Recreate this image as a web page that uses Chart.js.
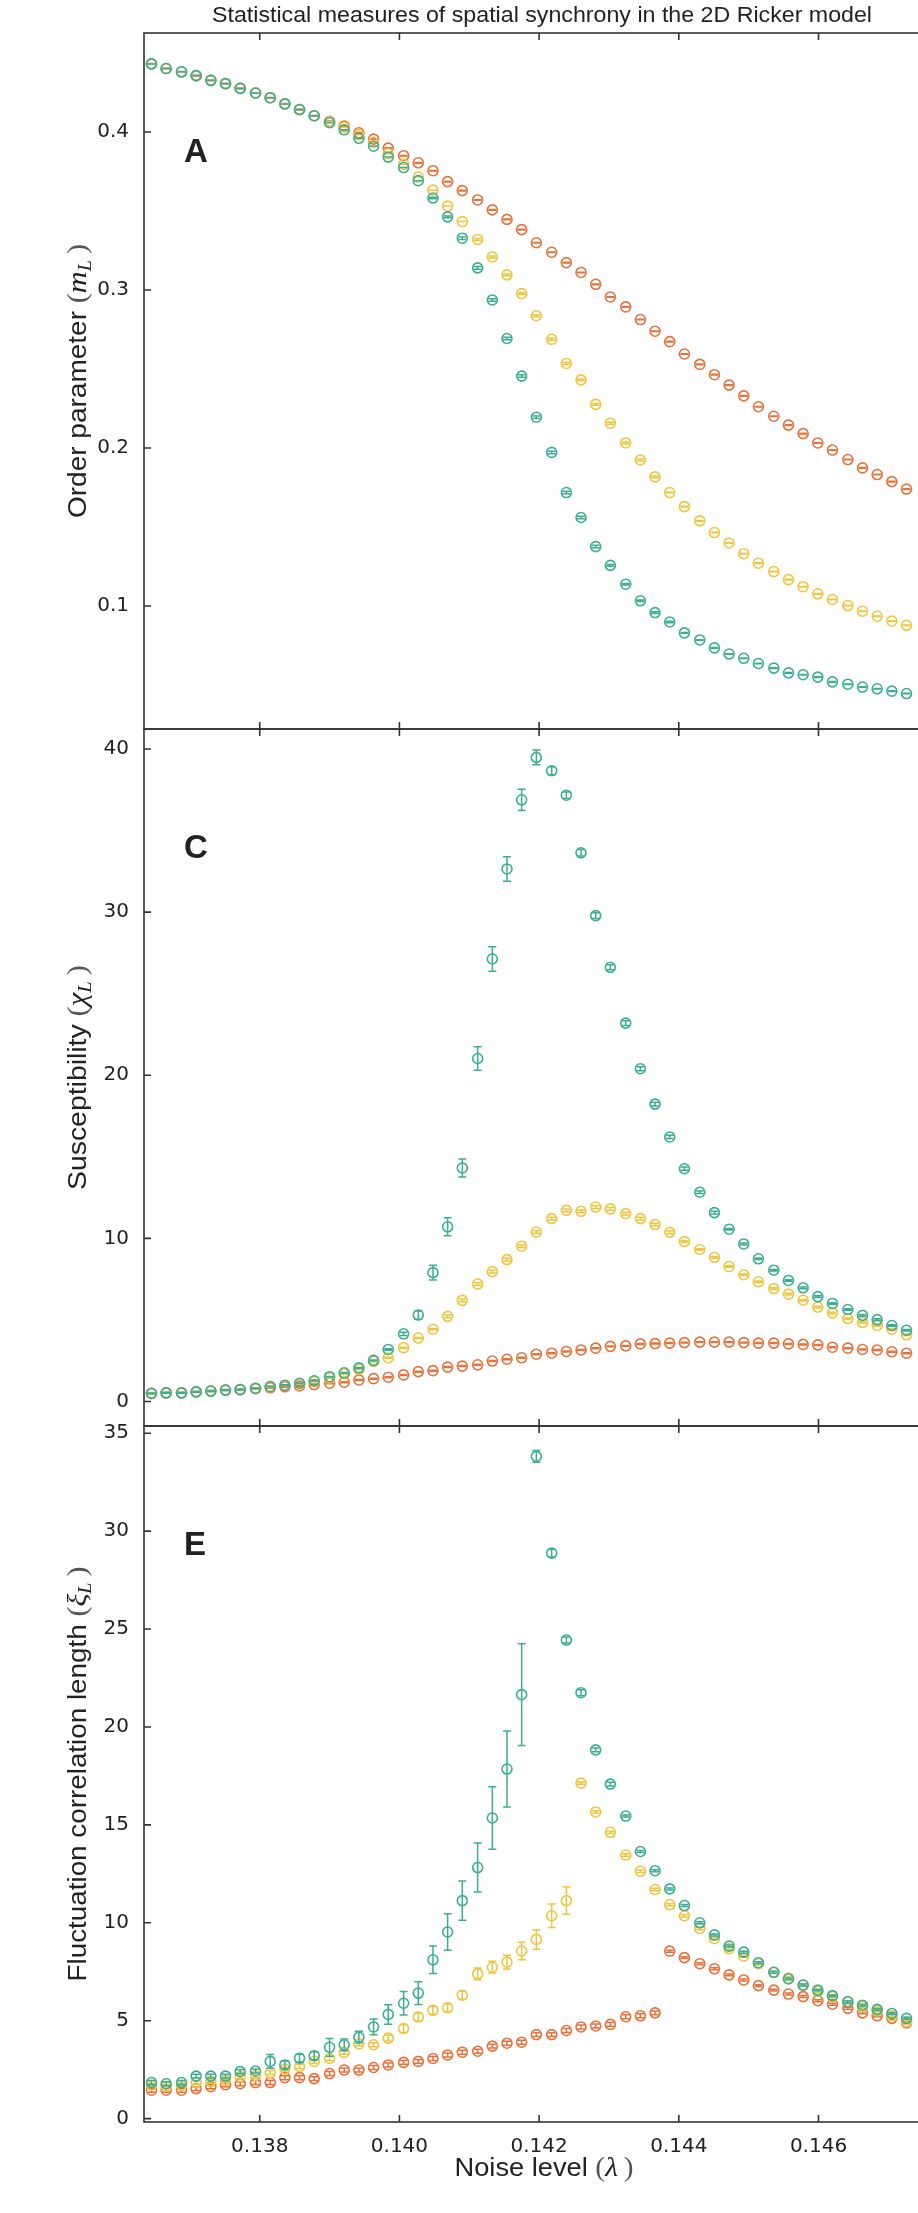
<!DOCTYPE html>
<html>
<head>
<meta charset="utf-8">
<title>Statistical measures of spatial synchrony in the 2D Ricker model</title>
<script src="https://cdn.jsdelivr.net/npm/chart.js@4.4.1/dist/chart.umd.min.js"></script>
<style>
  html, body { margin: 0; padding: 0; background: #fff; }
  #wrap { position: relative; width: 918px; height: 2213px; overflow: hidden; background: #fff; }
  #wrap canvas { position: absolute; left: 0; }
</style>
</head>
<body>
<div id="wrap">
  <canvas id="panelA" width="940" height="760" style="top:0px"></canvas>
  <canvas id="panelC" width="940" height="760" style="top:700px"></canvas>
  <canvas id="panelE" width="940" height="817" style="top:1396px"></canvas>
</div>
<script>
// noise level (lambda) of every sample
const lambda = [
  0.13645, 0.13666, 0.13688, 0.13709, 0.13730, 0.13751, 0.13772, 0.13794, 0.13815, 0.13836,
  0.13857, 0.13878, 0.13900, 0.13921, 0.13942, 0.13963, 0.13984, 0.14006, 0.14027, 0.14048,
  0.14069, 0.14090, 0.14112, 0.14133, 0.14154, 0.14175, 0.14196, 0.14218, 0.14239, 0.14260,
  0.14281, 0.14302, 0.14324, 0.14345, 0.14366, 0.14387, 0.14408, 0.14430, 0.14451, 0.14472,
  0.14493, 0.14514, 0.14536, 0.14557, 0.14578, 0.14599, 0.14620, 0.14642, 0.14663, 0.14684,
  0.14705, 0.14726
];
const tickX = [0.138, 0.140, 0.142, 0.144, 0.146];
const ticksA = [0.1, 0.2, 0.3, 0.4];
const ticksC = [0, 10, 20, 30, 40];
const ticksE = [0, 5, 10, 15, 20, 25, 30, 35];

// A: order parameter
const orderTeal = [
  0.4431, 0.4402, 0.4381, 0.4357, 0.4327, 0.4306, 0.4276, 0.4247, 0.4217, 0.4178,
  0.4142, 0.4103, 0.4059, 0.4014, 0.3960, 0.3910, 0.3841, 0.3775, 0.3692, 0.3582,
  0.3463, 0.3328, 0.3140, 0.2937, 0.2693, 0.2455, 0.2195, 0.1972, 0.1718, 0.1560,
  0.1376, 0.1257, 0.1138, 0.1033, 0.0958, 0.0899, 0.0830, 0.0785, 0.0735, 0.0696,
  0.0669, 0.0636, 0.0607, 0.0577, 0.0565, 0.0550, 0.0520, 0.0505, 0.0487, 0.0476,
  0.0461, 0.0446
];
const orderYellow = [
  0.4431, 0.4402, 0.4381, 0.4357, 0.4327, 0.4306, 0.4276, 0.4247, 0.4217, 0.4178,
  0.4142, 0.4103, 0.4065, 0.4030, 0.3982, 0.3935, 0.3862, 0.3795, 0.3715, 0.3632,
  0.3531, 0.3433, 0.3320, 0.3209, 0.3096, 0.2977, 0.2837, 0.2688, 0.2535, 0.2431,
  0.2276, 0.2157, 0.2032, 0.1924, 0.1817, 0.1718, 0.1629, 0.1539, 0.1465, 0.1399,
  0.1331, 0.1271, 0.1218, 0.1167, 0.1122, 0.1077, 0.1041, 0.1003, 0.0967, 0.0935,
  0.0905, 0.0878
];
const orderOrange = [
  0.4431, 0.4402, 0.4381, 0.4357, 0.4327, 0.4306, 0.4276, 0.4247, 0.4217, 0.4178,
  0.4142, 0.4103, 0.4068, 0.4038, 0.3995, 0.3955, 0.3898, 0.3850, 0.3805, 0.3755,
  0.3686, 0.3629, 0.3570, 0.3507, 0.3447, 0.3382, 0.3299, 0.3239, 0.3173, 0.3111,
  0.3036, 0.2956, 0.2893, 0.2813, 0.2739, 0.2673, 0.2595, 0.2529, 0.2464, 0.2398,
  0.2330, 0.2261, 0.2201, 0.2145, 0.2091, 0.2032, 0.1987, 0.1927, 0.1874, 0.1832,
  0.1787, 0.1740
];
const orderTealErr = [
  0, 0, 0, 0, 0, 0, 0, 0, 0, 0,
  0, 0, 0, 0, 0, 0, 0, 0, 0, 0.0005,
  0.0005, 0.0008, 0.0008, 0.0008, 0.0008, 0.0008, 0.0008, 0.0008, 0.0008, 0.0008,
  0.0008, 0.0005, 0.0005, 0.0005, 0.0005, 0.0005, 0.0002, 0.0002, 0.0002, 0.0002,
  0.0002, 0.0002, 0.0002, 0.0002, 0.0002, 0.0002, 0.0002, 0.0002, 0.0002, 0.0002,
  0.0002, 0.0002
];
const orderYellowErr = [
  0, 0, 0, 0, 0, 0, 0, 0, 0, 0,
  0, 0, 0, 0, 0, 0, 0, 0, 0, 0,
  0, 0, 0.0006, 0.0006, 0.0006, 0.0006, 0.0006, 0.0006, 0.0006, 0.0006,
  0.0006, 0.0006, 0.0006, 0.0006, 0.0006, 0.0002, 0.0002, 0.0002, 0.0002, 0.0002,
  0.0002, 0.0002, 0.0002, 0.0002, 0.0002, 0.0002, 0.0002, 0.0002, 0.0002, 0.0002,
  0.0002, 0.0002
];
const orderOrangeErr = [
  0.0002, 0.0002, 0.0002, 0.0002, 0.0002, 0.0002, 0.0002, 0.0002, 0.0002, 0.0002,
  0.0002, 0.0002, 0.0002, 0.0002, 0.0002, 0.0002, 0.0002, 0.0002, 0.0002, 0.0002,
  0.0002, 0.0002, 0.0002, 0.0002, 0.0002, 0.0002, 0.0002, 0.0002, 0.0002, 0.0002,
  0.0002, 0.0002, 0.0002, 0.0002, 0.0002, 0.0002, 0.0002, 0.0002, 0.0002, 0.0002,
  0.0002, 0.0002, 0.0002, 0.0002, 0.0002, 0.0002, 0.0002, 0.0002, 0.0002, 0.0002,
  0.0002, 0.0002
];

// C: susceptibility
const suscTeal = [
  0.50, 0.53, 0.53, 0.59, 0.64, 0.70, 0.73, 0.81, 0.92, 1.00,
  1.12, 1.27, 1.52, 1.76, 2.06, 2.52, 3.19, 4.15, 5.30, 7.90,
  10.71, 14.32, 21.03, 27.13, 32.65, 36.89, 39.49, 38.67, 37.17, 33.64,
  29.79, 26.62, 23.20, 20.40, 18.23, 16.22, 14.27, 12.83, 11.58, 10.56,
  9.66, 8.75, 8.05, 7.42, 6.97, 6.43, 6.01, 5.64, 5.28, 5.02,
  4.66, 4.37
];
const suscYellow = [
  0.50, 0.53, 0.53, 0.59, 0.64, 0.70, 0.73, 0.81, 0.90, 0.98,
  1.08, 1.22, 1.45, 1.69, 1.97, 2.45, 2.68, 3.30, 3.89, 4.43,
  5.22, 6.20, 7.20, 7.96, 8.70, 9.52, 10.39, 11.21, 11.72, 11.66,
  11.92, 11.81, 11.52, 11.21, 10.85, 10.37, 9.80, 9.32, 8.84, 8.28,
  7.77, 7.34, 6.92, 6.58, 6.21, 5.79, 5.42, 5.08, 4.85, 4.66,
  4.43, 4.09
];
const suscOrange = [
  0.50, 0.53, 0.53, 0.59, 0.64, 0.70, 0.73, 0.79, 0.84, 0.90,
  0.95, 1.04, 1.12, 1.18, 1.32, 1.40, 1.49, 1.63, 1.83, 1.89,
  2.11, 2.17, 2.25, 2.48, 2.59, 2.68, 2.90, 2.96, 3.07, 3.16,
  3.27, 3.38, 3.41, 3.53, 3.55, 3.58, 3.61, 3.64, 3.64, 3.64,
  3.61, 3.58, 3.58, 3.53, 3.50, 3.47, 3.33, 3.27, 3.19, 3.16,
  3.05, 2.96
];
const suscTealErr = [
  0.02, 0.02, 0.02, 0.02, 0.02, 0.02, 0.02, 0.02, 0.02, 0.02,
  0.02, 0.02, 0.02, 0.02, 0.02, 0.02, 0.05, 0.1, 0.25, 0.45,
  0.55, 0.55, 0.72, 0.75, 0.75, 0.65, 0.45, 0.25, 0.2, 0.2,
  0.18, 0.15, 0.15, 0.12, 0.12, 0.1, 0.1, 0.08, 0.08, 0.05,
  0.05, 0.05, 0.05, 0.05, 0.05, 0.05, 0.05, 0.05, 0.05, 0.05,
  0.05, 0.05
];
const suscYellowErr = [
  0.03, 0.03, 0.03, 0.03, 0.03, 0.03, 0.03, 0.03, 0.03, 0.03,
  0.03, 0.03, 0.03, 0.03, 0.03, 0.03, 0.03, 0.03, 0.03, 0.03,
  0.08, 0.08, 0.08, 0.08, 0.08, 0.08, 0.08, 0.08, 0.08, 0.08,
  0.08, 0.08, 0.08, 0.08, 0.08, 0.08, 0.05, 0.05, 0.05, 0.05,
  0.05, 0.05, 0.05, 0.05, 0.05, 0.05, 0.05, 0.05, 0.05, 0.05,
  0.05, 0.05
];
const suscOrangeErr = [
  0.03, 0.03, 0.03, 0.03, 0.03, 0.03, 0.03, 0.03, 0.03, 0.03,
  0.03, 0.03, 0.03, 0.03, 0.03, 0.03, 0.03, 0.03, 0.03, 0.03,
  0.03, 0.03, 0.03, 0.03, 0.03, 0.03, 0.03, 0.03, 0.03, 0.03,
  0.03, 0.03, 0.03, 0.03, 0.03, 0.03, 0.03, 0.03, 0.03, 0.03,
  0.03, 0.03, 0.03, 0.03, 0.03, 0.03, 0.03, 0.03, 0.03, 0.03,
  0.03, 0.03
];

// E: fluctuation correlation length
const corrTeal = [
  1.84, 1.78, 1.84, 2.17, 2.17, 2.17, 2.40, 2.43, 2.92, 2.74,
  3.08, 3.21, 3.64, 3.77, 4.16, 4.68, 5.32, 5.89, 6.41, 8.11,
  9.53, 11.13, 12.82, 15.35, 17.85, 21.65, 33.82, 28.88, 24.44, 21.75,
  18.83, 17.08, 15.45, 13.64, 12.66, 11.73, 10.88, 10.00, 9.38, 8.81,
  8.50, 7.96, 7.47, 7.13, 6.82, 6.56, 6.28, 5.97, 5.79, 5.58,
  5.37, 5.12
];
const corrYellow = [
  1.70, 1.65, 1.70, 1.85, 1.90, 1.95, 2.15, 2.20, 2.35, 2.53,
  2.66, 2.92, 3.07, 3.38, 3.82, 3.77, 4.11, 4.60, 5.19, 5.53,
  5.66, 6.30, 7.39, 7.73, 7.99, 8.56, 9.15, 10.36, 11.13, 17.13,
  15.66, 14.62, 13.46, 12.63, 11.70, 10.93, 10.36, 9.71, 9.20, 8.68,
  8.30, 7.91, 7.47, 7.18, 6.82, 6.49, 6.23, 5.97, 5.71, 5.50,
  5.25, 4.94
];
const corrOrange = [
  1.45, 1.45, 1.45, 1.53, 1.63, 1.73, 1.78, 1.84, 1.84, 2.09,
  2.09, 2.04, 2.30, 2.48, 2.48, 2.61, 2.74, 2.87, 2.92, 3.07,
  3.25, 3.39, 3.44, 3.70, 3.85, 3.90, 4.29, 4.29, 4.50, 4.68,
  4.73, 4.81, 5.20, 5.25, 5.40, 8.55, 8.22, 7.91, 7.65, 7.34,
  7.08, 6.79, 6.56, 6.36, 6.23, 6.02, 5.84, 5.63, 5.40, 5.25,
  5.12, 4.89
];
const corrTealErr = [
  0.1, 0.1, 0.1, 0.1, 0.1, 0.1, 0.1, 0.1, 0.35, 0.2,
  0.2, 0.2, 0.45, 0.3, 0.3, 0.4, 0.5, 0.6, 0.58, 0.7,
  0.93, 1.0, 1.25, 1.6, 1.94, 2.6, 0.3, 0.2, 0.15, 0.15,
  0.1, 0.1, 0.05, 0.05, 0.05, 0.05, 0.05, 0.05, 0.05, 0.05,
  0.05, 0.05, 0.05, 0.05, 0.05, 0.05, 0.05, 0.05, 0.05, 0.05,
  0.05, 0.05
];
const corrYellowErr = [
  0.1, 0.1, 0.1, 0.1, 0.1, 0.1, 0.1, 0.1, 0.1, 0.1,
  0.1, 0.1, 0.1, 0.1, 0.1, 0.1, 0.15, 0.2, 0.2, 0.2,
  0.2, 0.2, 0.3, 0.3, 0.35, 0.45, 0.5, 0.6, 0.7, 0.06,
  0.06, 0.06, 0.06, 0.06, 0.06, 0.06, 0.06, 0.06, 0.06, 0.06,
  0.06, 0.06, 0.06, 0.06, 0.06, 0.06, 0.06, 0.06, 0.06, 0.06,
  0.06, 0.06
];
const corrOrangeErr = [
  0.1, 0.1, 0.1, 0.1, 0.1, 0.1, 0.1, 0.1, 0.1, 0.1,
  0.1, 0.1, 0.1, 0.1, 0.1, 0.1, 0.1, 0.1, 0.1, 0.1,
  0.1, 0.1, 0.1, 0.1, 0.1, 0.1, 0.1, 0.1, 0.1, 0.1,
  0.1, 0.1, 0.1, 0.1, 0.1, 0.05, 0.05, 0.05, 0.05, 0.05,
  0.05, 0.05, 0.05, 0.05, 0.05, 0.05, 0.05, 0.05, 0.05, 0.05,
  0.05, 0.05
];

const TEAL = '#3aae95';
const YELLOW = '#f2c43e';
const ORANGE = '#e7713a';
const TEXT = '#222222';
const AXIS = '#333333';
const SANS = '"Liberation Sans", Arial, Helvetica, sans-serif';
const SERIF = '"Liberation Serif", "DejaVu Serif", serif';
const TICK_FONT = { family: '"DejaVu Sans", sans-serif', size: 20 };

// text made of pieces in different fonts, squeezed/stretched to a given width
function drawText(ctx, segs, x, y, width, rotated) {
  ctx.save();
  ctx.translate(x, y);
  if (rotated) ctx.rotate(-Math.PI / 2);
  const widths = segs.map(s => { ctx.font = s.font; return ctx.measureText(s.text).width; });
  const total = widths.reduce((a, b) => a + b, 0);
  ctx.scale(width / total, 1);
  ctx.textAlign = 'left';
  ctx.textBaseline = 'alphabetic';
  let cx = -total / 2;
  segs.forEach((s, i) => {
    ctx.font = s.font;
    ctx.fillStyle = s.color || TEXT;
    ctx.fillText(s.text, cx, s.dy || 0);
    cx += widths[i];
  });
  ctx.restore();
}

function mathLabel(text, sym, size, sub) {
  const segs = [
    { text: text + ' ', font: size + 'px ' + SANS },
    { text: '(', font: (size + 2) + 'px ' + SERIF, color: '#555' },
    { text: sym, font: 'italic ' + (size + 2) + 'px ' + SERIF }
  ];
  if (sub) segs.push({ text: sub, font: 'italic ' + Math.round(size * 0.7) + 'px ' + SERIF, dy: 5 });
  segs.push({ text: '\u2009)', font: (size + 2) + 'px ' + SERIF, color: '#555' });
  return segs;
}

const errorBars = {
  id: 'errorBars',
  afterDatasetDraw(chart, args) {
    const ds = chart.data.datasets[args.index];
    const y = chart.scales.y;
    const ctx = chart.ctx;
    const cap = 4;
    ctx.save();
    ctx.strokeStyle = ds.borderColor;
    ctx.lineWidth = 1.5;
    ctx.beginPath();
    args.meta.data.forEach((pt, i) => {
      const v = ds.data[i].y, e = ds.errors[i];
      const top = y.getPixelForValue(v + e), bot = y.getPixelForValue(v - e);
      ctx.moveTo(pt.x, top); ctx.lineTo(pt.x, bot);
      ctx.moveTo(pt.x - cap, top); ctx.lineTo(pt.x + cap, top);
      ctx.moveTo(pt.x - cap, bot); ctx.lineTo(pt.x + cap, bot);
    });
    ctx.stroke();
    ctx.restore();
  }
};

function decor(cfg) {
  return {
    id: 'decor',
    afterDraw(chart) {
      const { ctx, chartArea: a, scales } = chart;
      ctx.save();
      ctx.strokeStyle = AXIS;
      ctx.lineWidth = 1.6;
      ctx.strokeRect(a.left, a.top, a.right - a.left, a.bottom - a.top);
      ctx.beginPath();
      tickX.forEach(v => {
        const px = scales.x.getPixelForValue(v);
        ctx.moveTo(px, a.top); ctx.lineTo(px, a.top + 7);
        ctx.moveTo(px, a.bottom); ctx.lineTo(px, a.bottom - 7);
      });
      cfg.yTicks.forEach(v => {
        const py = scales.y.getPixelForValue(v);
        ctx.moveTo(a.left, py); ctx.lineTo(a.left + 7, py);
        ctx.moveTo(a.right, py); ctx.lineTo(a.right - 7, py);
      });
      ctx.stroke();
      ctx.fillStyle = TEXT;
      ctx.font = 'bold 33px ' + SANS;
      ctx.textAlign = 'left';
      ctx.textBaseline = 'alphabetic';
      ctx.fillText(cfg.letter, a.left + 40, a.top + 129);
      ctx.restore();
      drawText(ctx, cfg.yTitle, 86, (a.top + a.bottom) / 2, cfg.yTitleWidth, true);
      if (cfg.title) drawText(ctx, [{ text: cfg.title, font: '22px ' + SANS }], 542, 22, 660, false);
      if (cfg.xTitle) drawText(ctx, cfg.xTitle, 544, a.bottom + 54, 179, false);
    }
  };
}

function buildPanel(id, cfg) {
  const series = [
    { label: 'teal', color: TEAL, values: cfg.values[0], errors: cfg.errors[0] },
    { label: 'yellow', color: YELLOW, values: cfg.values[1], errors: cfg.errors[1] },
    { label: 'orange', color: ORANGE, values: cfg.values[2], errors: cfg.errors[2] }
  ];
  const xScale = {
    type: 'linear',
    min: 0.136343,
    max: 0.147645,
    display: !!cfg.xTitle,
    afterBuildTicks: s => { s.ticks = tickX.map(v => ({ value: v })); },
    grid: { display: false },
    border: { display: false },
    ticks: { font: TICK_FONT, color: TEXT, padding: 5, maxRotation: 0, autoSkip: false,
             callback: v => v.toFixed(3) }
  };
  if (cfg.xTitle) xScale.afterFit = s => { s.height = 70; };

  return new Chart(document.getElementById(id), {
    type: 'scatter',
    data: {
      datasets: series.map(s => ({
        label: s.label,
        data: lambda.map((x, i) => ({ x: x, y: s.values[i] })),
        errors: s.errors,
        borderColor: s.color,
        backgroundColor: 'rgba(0,0,0,0)',
        pointRadius: 5,
        pointHoverRadius: 5,
        pointBorderWidth: 1.6
      }))
    },
    options: {
      responsive: false,
      animation: false,
      events: [],
      layout: { padding: cfg.padding },
      plugins: { legend: { display: false }, tooltip: { enabled: false } },
      scales: {
        x: xScale,
        y: {
          type: 'linear',
          min: cfg.yMin,
          max: cfg.yMax,
          afterFit: s => { s.width = 144; },
          afterBuildTicks: s => { s.ticks = cfg.yTicks.map(v => ({ value: v })); },
          grid: { display: false },
          border: { display: false },
          ticks: { font: TICK_FONT, color: TEXT, padding: 7, callback: cfg.yFormat }
        }
      }
    },
    plugins: [errorBars, decor(cfg)]
  });
}

buildPanel('panelA', {
  values: [orderTeal, orderYellow, orderOrange],
  errors: [orderTealErr, orderYellowErr, orderOrangeErr],
  yMin: 0.02215, yMax: 0.46266, yTicks: ticksA, yFormat: v => v.toFixed(1),
  padding: { top: 33, bottom: 31, left: 0, right: 0 },
  letter: 'A',
  yTitle: mathLabel('Order parameter', 'm', 25, 'L'), yTitleWidth: 274,
  title: 'Statistical measures of spatial synchrony in the 2D Ricker model'
});

buildPanel('panelC', {
  values: [suscTeal, suscYellow, suscOrange],
  errors: [suscTealErr, suscYellowErr, suscOrangeErr],
  yMin: -1.502, yMax: 41.23, yTicks: ticksC, yFormat: v => String(v),
  padding: { top: 29, bottom: 34, left: 0, right: 0 },
  letter: 'C',
  yTitle: mathLabel('Susceptibility', '\u03C7', 25, 'L'), yTitleWidth: 225
});

buildPanel('panelE', {
  values: [corrTeal, corrYellow, corrOrange],
  errors: [corrTealErr, corrYellowErr, corrOrangeErr],
  yMin: -0.174, yMax: 35.37, yTicks: ticksE, yFormat: v => String(v),
  padding: { top: 30, bottom: 21, left: 0, right: 0 },
  letter: 'E',
  yTitle: mathLabel('Fluctuation correlation length', '\u03BE', 25, 'L'), yTitleWidth: 415,
  xTitle: mathLabel('Noise level', '\u03BB', 26, '')
});
</script>
</body>
</html>
